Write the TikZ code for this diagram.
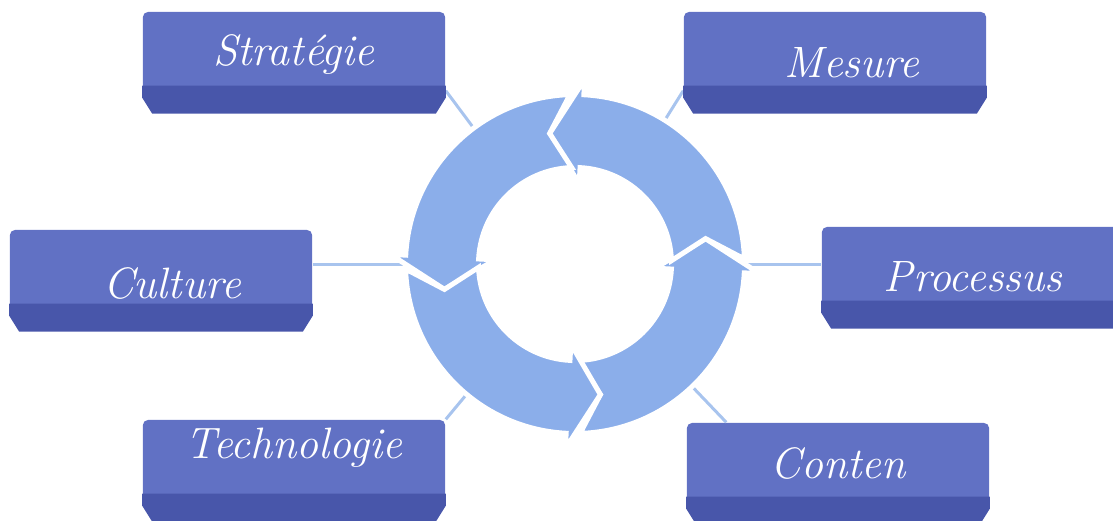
\documentclass[tikz,border=0pt]{standalone}
\usetikzlibrary{calc}

\definecolor{facecol}{RGB}{97,113,196}
\definecolor{bandcol}{RGB}{72,86,170}
\definecolor{ringcol}{RGB}{139,174,234}
\definecolor{linkcol}{RGB}{168,196,238}

\tikzstyle{box} = [rounded corners=0.05cm, fill=facecol, minimum width=3.02cm, minimum height=0.78cm, inner sep=0pt]
\tikzstyle{band} = [fill=bandcol]
\tikzstyle{word} = [text=white, font=\fontsize{12.5}{14}\selectfont\itshape]
\tikzstyle{link} = [draw=linkcol, line width=0.03cm]
\tikzstyle{turn} = [fill=ringcol, draw=white, line width=0.05cm]

\begin{document}
\begin{tikzpicture}[x=0.01cm, y=0.01cm]
\useasboundingbox (0,0) rectangle (1113,520);

% ring used by the connectors
\node[circle, minimum size=3.34cm, inner sep=0pt] (ring) at (575,256) {};

% boxes
\node[box] (strat) at (294,469) {};
\node[box] (mesure) at (835,469) {};
\node[box] (culture) at (161,251) {};
\node[box] (proc) at (973,254) {};
\node[box] (tech) at (294,61) {};
\node[box] (conten) at (838,58) {};

% connectors
\draw[link] (strat.south east) -- (ring);
\draw[link] (mesure.south west) -- (ring);
\draw[link] (culture.east |- ring) -- (ring.west);
\draw[link] (ring.east) -- (ring -| proc.west);
\draw[link] (tech.north east) -- (ring);
\draw[link] ([xshift=0.4cm]conten.north west) -- (ring);

% lower band of the boxes
\foreach \n in {strat,mesure,culture,proc,tech,conten}
    \fill[band] ([yshift=0.05cm]\n.south west) -- ([yshift=0.05cm]\n.south east)
        -- ++(0,-12) -- ++(-10,-16) -- ($(\n.south west)+(10,-23)$) -- ++(-10,16) -- cycle;

% texts
\node[word] (stratT) at ([yshift=-0.04cm]strat) {Stratégie};
\node[word] (mesureT) at ([xshift=0.17cm, yshift=-0.12cm]mesure) {Mesure};
\node[word] (cultureT) at ([xshift=0.11cm, yshift=-0.14cm]culture) {Culture};
\node[word] (procT) at ([yshift=-0.11cm]proc) {Processus};
\node[word] (techT) at ([yshift=0.11cm]tech) {Technologie};
\node[word] (contenT) at ([yshift=-0.01cm]conten) {Conten};

% circular arrows
\begin{scope}[shift={(575,256)}]
\foreach \t in {11,101,191,281}
    \filldraw[turn] (\t-99.3:169.5) arc[start angle=\t-99.3, end angle=\t-14, radius=169.5]
        -- (\t-14:185) -- (\t:133) -- (\t-14:80) -- (\t-14:96.5)
        arc[start angle=\t-14, end angle=\t-99, radius=96.5]
        -- (\t-90:133) -- cycle;
\end{scope}
\end{tikzpicture}
\end{document}
